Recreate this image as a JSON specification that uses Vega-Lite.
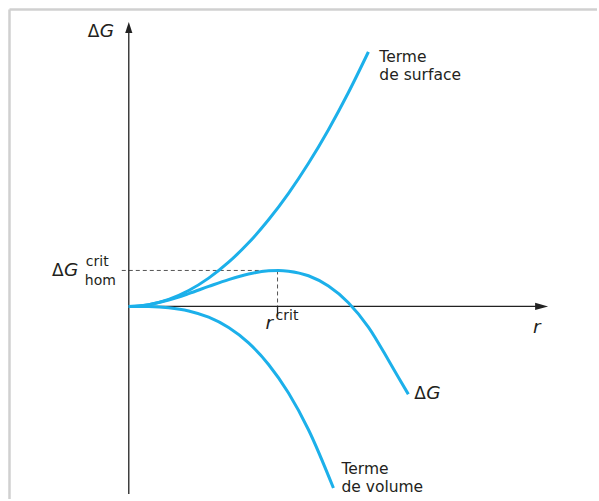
{
  "$schema": "https://vega.github.io/schema/vega-lite/v6.json",
  "width": 599,
  "height": 501,
  "autosize": {"type": "fit", "contains": "padding"},
  "padding": 0,
  "background": "white",
  "config": {"view": {"stroke": null}},
  "datasets": {
    "curves": [
      {"series": "surface", "u": 0, "v": 0}, {"series": "surface", "u": 10, "v": 0.44},
      {"series": "surface", "u": 20, "v": 1.77}, {"series": "surface", "u": 40, "v": 7.08},
      {"series": "surface", "u": 60, "v": 15.9}, {"series": "surface", "u": 80, "v": 28.3},
      {"series": "surface", "u": 100, "v": 44.3}, {"series": "surface", "u": 120, "v": 63.7},
      {"series": "surface", "u": 140, "v": 86.8}, {"series": "surface", "u": 160, "v": 113.3},
      {"series": "surface", "u": 180, "v": 143.4}, {"series": "surface", "u": 200, "v": 177.1},
      {"series": "surface", "u": 220, "v": 214.3}, {"series": "surface", "u": 240, "v": 255},
      {"series": "volume", "u": 0, "v": 0}, {"series": "volume", "u": 20, "v": -0.17},
      {"series": "volume", "u": 40, "v": -1.36}, {"series": "volume", "u": 60, "v": -4.58},
      {"series": "volume", "u": 80, "v": -10.85}, {"series": "volume", "u": 100, "v": -21.2},
      {"series": "volume", "u": 120, "v": -36.6}, {"series": "volume", "u": 140, "v": -58.2},
      {"series": "volume", "u": 160, "v": -86.8}, {"series": "volume", "u": 180, "v": -123.6},
      {"series": "volume", "u": 205, "v": -182},
      {"series": "dG", "u": 0, "v": 0}, {"series": "dG", "u": 20, "v": 1.77},
      {"series": "dG", "u": 40, "v": 6.39}, {"series": "dG", "u": 60, "v": 12.81},
      {"series": "dG", "u": 80, "v": 19.99}, {"series": "dG", "u": 100, "v": 26.88},
      {"series": "dG", "u": 120, "v": 32.44}, {"series": "dG", "u": 140, "v": 35.61},
      {"series": "dG", "u": 150, "v": 36.0}, {"series": "dG", "u": 160, "v": 35.3},
      {"series": "dG", "u": 180, "v": 30.7}, {"series": "dG", "u": 200, "v": 20.4},
      {"series": "dG", "u": 220, "v": 3.7}, {"series": "dG", "u": 240, "v": -20.7},
      {"series": "dG", "u": 260, "v": -53.7}, {"series": "dG", "u": 270, "v": -71},
      {"series": "dG", "u": 280, "v": -88}
    ],
    "rules": [
      {"kind": "frame", "u": -119.5, "v": 297.5, "u2": -119.5, "v2": -193},
      {"kind": "frame", "u": -119.5, "v": 297.5, "u2": 469, "v2": 297.5},
      {"kind": "axis", "u": 0, "v": 274, "u2": 0, "v2": -188},
      {"kind": "axis", "u": 0, "v": 0, "u2": 408, "v2": 0},
      {"kind": "guide", "u": -7, "v": 36, "u2": 149, "v2": 36},
      {"kind": "guide", "u": 149, "v": 36, "u2": 149, "v2": 0},
      {"kind": "tick", "u": 149, "v": 0, "u2": 149, "v2": -10}
    ],
    "arrows": [
      {"dir": "up", "u": 0, "v": 279.5},
      {"dir": "right", "u": 413.5, "v": 0}
    ],
    "words": [
      {"t": "Terme", "u": 251, "v": 245},
      {"t": "de surface", "u": 251, "v": 227},
      {"t": "Terme", "u": 213, "v": -168},
      {"t": "de volume", "u": 213, "v": -186}
    ],
    "deltas": [
      {"t": "Δ", "u": -41, "v": 270},
      {"t": "Δ", "u": -77, "v": 30},
      {"t": "Δ", "u": 286, "v": -93}
    ],
    "italics": [
      {"t": "G", "u": -29, "v": 270},
      {"t": "G", "u": -65, "v": 30},
      {"t": "G", "u": 298, "v": -93},
      {"t": "r", "u": 137, "v": -23},
      {"t": "r", "u": 405, "v": -27}
    ],
    "subs": [
      {"t": "crit", "u": -43, "v": 40},
      {"t": "hom", "u": -44, "v": 21},
      {"t": "crit", "u": 147, "v": -14}
    ]
  },
  "data": {"name": "curves"},
  "encoding": {
    "x": {"field": "u", "type": "quantitative", "axis": null,
          "scale": {"domain": [-129, 470], "nice": false, "zero": false}},
    "y": {"field": "v", "type": "quantitative", "axis": null,
          "scale": {"domain": [-194, 307], "nice": false, "zero": false}}
  },
  "layer": [
    {
      "data": {"name": "rules"},
      "transform": [{"filter": "datum.kind === 'frame'"}],
      "mark": {"type": "rule", "color": "#d0d0d0", "strokeWidth": 2.5},
      "encoding": {"x2": {"field": "u2"}, "y2": {"field": "v2"}}
    },
    {
      "data": {"name": "rules"},
      "transform": [{"filter": "datum.kind === 'guide'"}],
      "mark": {"type": "rule", "color": "#555555", "strokeWidth": 1, "strokeDash": [4, 3]},
      "encoding": {"x2": {"field": "u2"}, "y2": {"field": "v2"}}
    },
    {
      "data": {"name": "rules"},
      "transform": [{"filter": "datum.kind === 'axis' || datum.kind === 'tick'"}],
      "mark": {"type": "rule", "color": "#222222", "strokeWidth": 1.3},
      "encoding": {"x2": {"field": "u2"}, "y2": {"field": "v2"}}
    },
    {
      "data": {"name": "arrows"},
      "transform": [{"filter": "datum.dir === 'up'"}],
      "mark": {"type": "point", "shape": "M0,-1L0.65,1L-0.65,1Z", "size": 121,
               "filled": true, "color": "#222222", "opacity": 1}
    },
    {
      "data": {"name": "arrows"},
      "transform": [{"filter": "datum.dir === 'right'"}],
      "mark": {"type": "point", "shape": "M1,0L-1,-0.55L-1,0.55Z", "size": 169,
               "filled": true, "color": "#222222", "opacity": 1}
    },
    {
      "mark": {"type": "line", "color": "#1cb0ea", "strokeWidth": 3,
               "interpolate": "monotone", "strokeCap": "butt"},
      "encoding": {"detail": {"field": "series"}}
    },
    {
      "data": {"name": "words"},
      "mark": {"type": "text", "font": "DejaVu Sans", "fontSize": 15.5,
               "align": "left", "baseline": "alphabetic", "color": "#231f20"},
      "encoding": {"text": {"field": "t"}}
    },
    {
      "data": {"name": "deltas"},
      "mark": {"type": "text", "font": "DejaVu Sans", "fontSize": 17,
               "align": "left", "baseline": "alphabetic", "color": "#231f20"},
      "encoding": {"text": {"field": "t"}}
    },
    {
      "data": {"name": "italics"},
      "mark": {"type": "text", "font": "DejaVu Sans", "fontStyle": "italic", "fontSize": 18.5,
               "align": "left", "baseline": "alphabetic", "color": "#231f20"},
      "encoding": {"text": {"field": "t"}}
    },
    {
      "data": {"name": "subs"},
      "mark": {"type": "text", "font": "DejaVu Sans", "fontSize": 14,
               "align": "left", "baseline": "alphabetic", "color": "#231f20"},
      "encoding": {"text": {"field": "t"}}
    }
  ]
}
